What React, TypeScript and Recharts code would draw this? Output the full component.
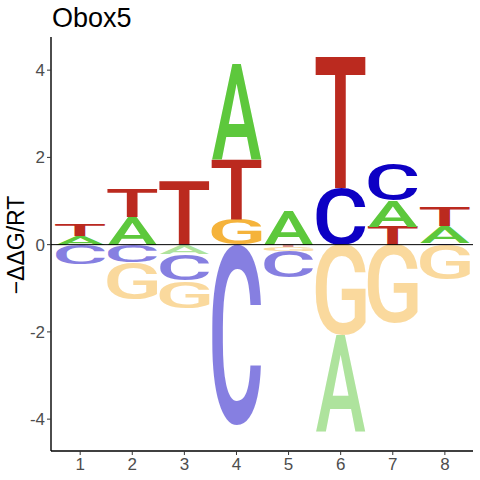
import { Bar, ComposedChart, Label, ReferenceLine, XAxis, YAxis } from "recharts";

// positions along the motif
const positions = [1, 2, 3, 4, 5, 6, 7, 8];

// letter heights above zero
const upA = [0.2, 0.63, 0, 2.19, 0.79, 0, 0.61, 0.38];
const upC = [0, 0, 0, 0, 0, 1.31, 0.83, 0.04];
const upG = [0, 0, 0, 0.59, 0, 0, 0, 0];
const upT = [0.26, 0.64, 1.47, 1.38, 0, 3.02, 0.41, 0.41];

// letter heights below zero
const downA = [0, 0, -0.22, 0, 0, -2.22, 0, 0];
const downC = [-0.44, -0.4, -0.6, -4.14, -0.62, 0, 0, 0];
const downG = [0, -0.85, -0.63, 0, -0.09, -2.07, -1.8, -0.79];
const downT = [0, 0, 0, 0, -0.05, 0, 0, 0];

const yTicks = [-4, -2, 0, 2, 4];

const letters = ["A", "C", "G", "T"];
const colors: Record<string, string> = {
  A: "#5DC83C",
  C: "#0D00C4",
  G: "#F5B33B",
  T: "#BB2A1F",
};

const up: Record<string, number[]> = { A: upA, C: upC, G: upG, T: upT };
const down: Record<string, number[]> = { A: downA, C: downC, G: downG, T: downT };

// stack letters per position: smallest next to zero
const data = positions.map((pos, i) => {
  const row: any = { pos };
  letters
    .map((l) => ({ l, v: up[l][i] }))
    .filter((d) => d.v > 0)
    .sort((a, b) => a.v - b.v)
    .forEach((d, k) => {
      row[`p${k}`] = d.v;
      row[`p${k}L`] = d.l;
    });
  letters
    .map((l) => ({ l, v: down[l][i] }))
    .filter((d) => d.v < 0)
    .sort((a, b) => b.v - a.v)
    .forEach((d, k) => {
      row[`n${k}`] = d.v;
      row[`n${k}L`] = d.l;
    });
  return row;
});

const FONT = "Roboto";
const metricCache: Record<string, { l: number; r: number; a: number; d: number }> = {};
function glyphBox(letter: string) {
  if (!metricCache[letter]) {
    const ctx = document.createElement("canvas").getContext("2d")!;
    ctx.font = `500 100px ${FONT}`;
    const m = ctx.measureText(letter);
    metricCache[letter] = {
      l: m.actualBoundingBoxLeft,
      r: m.actualBoundingBoxRight,
      a: m.actualBoundingBoxAscent,
      d: m.actualBoundingBoxDescent,
    };
  }
  return metricCache[letter];
}

// draws a glyph stretched to fill the bar box
const LetterShape = (props: any) => {
  const { x, y, width, height, letter, faded } = props;
  if (!letter || !height || !width) return <g />;
  let top = y;
  let h = height;
  if (h < 0) {
    top = y + h;
    h = -h;
  }
  const b = glyphBox(letter);
  const sx = width / (b.l + b.r);
  const sy = h / (b.a + b.d);
  return (
    <text
      transform={`translate(${x},${top}) scale(${sx},${sy}) translate(${b.l},${b.a})`}
      fontFamily={FONT}
      fontWeight={500}
      fontSize={100}
      fill={colors[letter]}
      fillOpacity={faded ? 0.5 : 1}
    >
      {letter}
    </text>
  );
};

const seriesKeys = ["p0", "p1", "p2", "p3", "n0", "n1", "n2", "n3"];

export default function App() {
  return (
    <div style={{ position: "absolute", left: 0, top: 0, width: 480, height: 480, background: "#fff" }}>
      <ComposedChart
        width={480}
        height={480}
        data={data}
        stackOffset="sign"
        margin={{ top: 37, right: 7, bottom: 0, left: 0 }}
      >
        <XAxis
          type="number"
          dataKey="pos"
          domain={[0.44, 8.54]}
          ticks={positions}
          allowDataOverflow
          height={29}
          axisLine={{ stroke: "#000", strokeWidth: 1.4 }}
          tickLine={{ stroke: "#333" }}
          tickSize={4}
          tickMargin={3}
          tick={{ fill: "#4D4D4D", fontSize: 17, fontFamily: "Liberation Sans, Arial" }}
        />
        <YAxis
          type="number"
          domain={[-4.73, 4.76]}
          ticks={yTicks}
          allowDataOverflow
          width={51}
          axisLine={{ stroke: "#000", strokeWidth: 1.4 }}
          tickLine={{ stroke: "#333" }}
          tickSize={4}
          tick={{ fill: "#4D4D4D", fontSize: 17, fontFamily: "Liberation Sans, Arial" }}
        >
          <Label
            content={() => (
              <text
                transform="translate(24,245) rotate(-90)"
                textAnchor="middle"
                fontSize={23}
                fontFamily="Liberation Sans, Arial"
                fill="#000"
              >
                {"\u2212ΔΔG/RT"}
              </text>
            )}
          />
        </YAxis>
        {seriesKeys.map((key) => (
          <Bar
            key={key}
            dataKey={key}
            stackId="logo"
            barSize={50}
            isAnimationActive={false}
            shape={(p: any) => (
              <LetterShape {...p} letter={p.payload?.[`${key}L`]} faded={key.startsWith("n")} />
            )}
          />
        ))}
        <ReferenceLine y={0} stroke="#000" strokeWidth={1} />
      </ComposedChart>
      <svg width={480} height={40} style={{ position: "absolute", left: 0, top: 0, pointerEvents: "none" }}>
        <text x={52} y={27} fontSize={27} fontFamily="Liberation Sans, Arial" fill="#000">
          Obox5
        </text>
      </svg>
    </div>
  );
}
